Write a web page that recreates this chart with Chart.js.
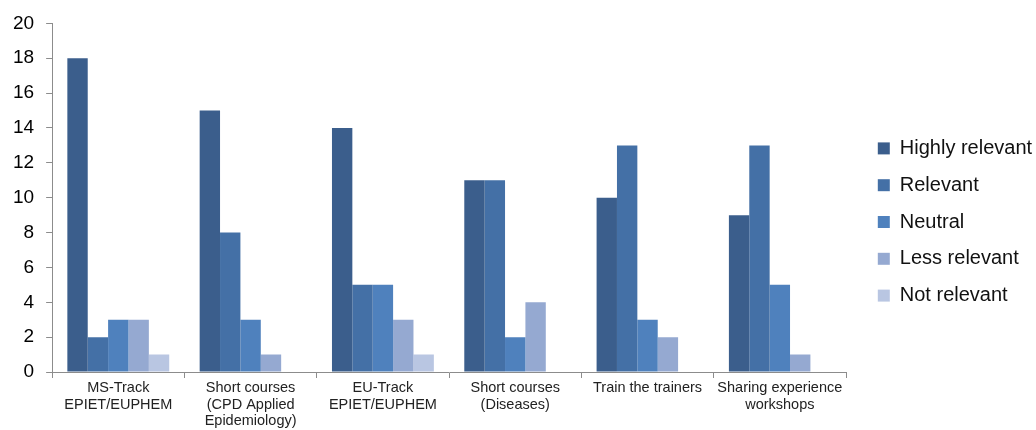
<!DOCTYPE html>
<html>
<head>
<meta charset="utf-8">
<script src="https://cdn.jsdelivr.net/npm/chart.js@4/dist/chart.umd.min.js"></script>
<style>
    html, body { margin: 0; padding: 0; background: #fff; }
    #wrap { width: 1036px; height: 430px; position: relative; }
</style>
</head>
<body>
<div id="wrap"><canvas id="chart"></canvas></div>
<script>
// Categories (multi-line labels as in the original)
var categories = [
    ['MS-Track', 'EPIET/EUPHEM'],
    ['Short courses', '(CPD Applied', 'Epidemiology)'],
    ['EU-Track', 'EPIET/EUPHEM'],
    ['Short courses', '(Diseases)'],
    ['Train the trainers'],
    ['Sharing experience', 'workshops']
];

var seriesNames = ['Highly relevant', 'Relevant', 'Neutral', 'Less relevant', 'Not relevant'];

var highlyRelevant = [18, 15, 14, 11, 10, 9];
var relevant       = [2, 8, 5, 11, 13, 13];
var neutral        = [3, 3, 5, 2, 3, 5];
var lessRelevant   = [3, 1, 3, 4, 2, 1];
var notRelevant    = [1, 0, 1, 0, 0, 0];

var seriesColors = ['#3B5E8C', '#4470A6', '#4F81BD', '#95A9D1', '#B9C6E2'];

var yTicks = [0, 2, 4, 6, 8, 10, 12, 14, 16, 18, 20];

(function() {
    'use strict';

    var fontFamily = '"Liberation Sans", Arial, sans-serif';
    var values = [highlyRelevant, relevant, neutral, lessRelevant, notRelevant];

    var datasets = seriesNames.map(function(name, i) {
        return {
            label: name,
            data: values[i],
            backgroundColor: seriesColors[i],
            borderWidth: 0,
            barPercentage: 1.0,
            categoryPercentage: 0.77
        };
    });

    // reserve a fixed width on the right for the legend, and push it away from the plot
    var legendGap = {
        id: 'legendGap',
        beforeLayout: function(chart) {
            var lg = chart.legend;
            if (lg && !lg._gapPatched) {
                var fit = lg.fit;
                lg.fit = function() {
                    fit.call(this);
                    if (this.isHorizontal && !this.isHorizontal()) {
                        this.width = Math.max(this.width, 190);
                    }
                };
                lg._gapPatched = true;
            }
        },
        afterLayout: function(chart) {
            var lg = chart.legend;
            if (lg) {
                // box is drawn at left + labels.padding
                lg.left = chart.chartArea.right + 15;
                lg.top -= 4;
                lg.bottom -= 4;
            }
        }
    };

    new Chart(document.getElementById('chart'), {
        type: 'bar',
        data: {
            labels: categories,
            datasets: datasets
        },
        plugins: [legendGap],
        options: {
            responsive: true,
            maintainAspectRatio: false,
            animation: false,
            layout: {
                padding: { top: 22, right: 0, left: 1, bottom: 0 }
            },
            plugins: {
                tooltip: { enabled: false },
                legend: {
                    position: 'right',
                    labels: {
                        boxWidth: 12,
                        boxHeight: 12,
                        padding: 16.8,
                        color: '#111',
                        font: { family: fontFamily, size: 20 }
                    }
                }
            },
            scales: {
                x: {
                    grid: {
                        display: true,
                        drawOnChartArea: false,
                        offset: true,
                        tickLength: 6,
                        color: '#8c8c8c'
                    },
                    border: { color: '#8c8c8c', width: 1 },
                    ticks: {
                        color: '#222',
                        maxRotation: 0,
                        autoSkip: false,
                        padding: 2,
                        font: { family: fontFamily, size: 14.5, lineHeight: 1.14 }
                    },
                    afterFit: function(scale) {
                        scale.height = 58;
                    }
                },
                y: {
                    min: 0,
                    max: 20,
                    afterBuildTicks: function(scale) {
                        scale.ticks = yTicks.map(function(v) { return { value: v }; });
                    },
                    grid: {
                        display: true,
                        drawOnChartArea: false,
                        tickLength: 6,
                        color: '#8c8c8c'
                    },
                    border: { color: '#8c8c8c', width: 1 },
                    ticks: {
                        color: '#000',
                        padding: 12,
                        font: { family: fontFamily, size: 19 }
                    }
                }
            }
        }
    });
})();
</script>
</body>
</html>
